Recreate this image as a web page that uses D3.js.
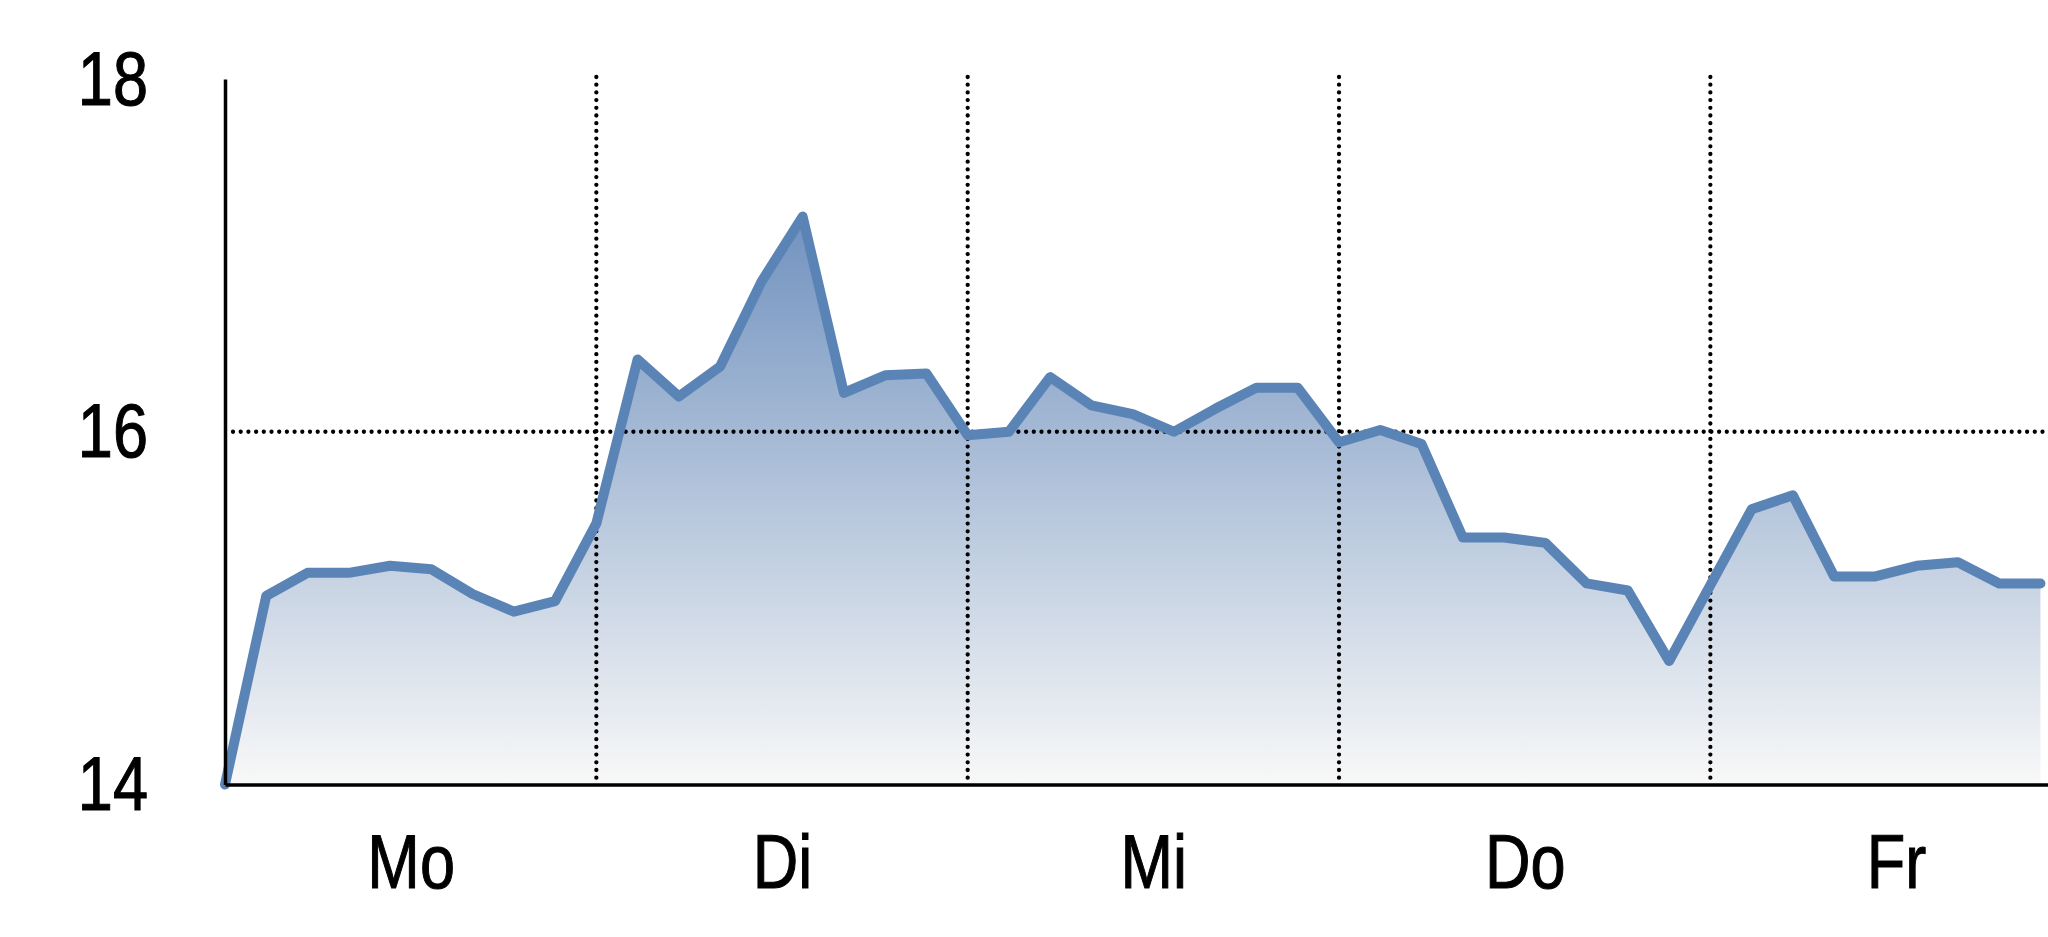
<!DOCTYPE html>
<html>
<head>
<meta charset="utf-8">
<script src="https://cdn.jsdelivr.net/npm/d3@7/dist/d3.min.js"></script>
<style>
  html, body { margin: 0; padding: 0; background: #ffffff; overflow: hidden; }
  svg { display: block; }
</style>
</head>
<body>
<svg id="chart" width="2048" height="937"></svg>
<script>
// ---- data ----
const days = ["Mo", "Di", "Mi", "Do", "Fr"];
const pointsPerDay = 9;
const values = [
  14.00, 15.07, 15.20, 15.20, 15.24, 15.22, 15.08, 14.98, 15.04,
  15.48, 16.41, 16.20, 16.37, 16.85, 17.22, 16.22, 16.32, 16.33,
  15.98, 16.00, 16.31, 16.15, 16.10, 16.00, 16.13, 16.25, 16.25,
  15.94, 16.01, 15.93, 15.40, 15.40, 15.37, 15.14, 15.10, 14.70,
  15.13, 15.56, 15.64, 15.18, 15.18, 15.24, 15.26, 15.14, 15.14
];
const yTicks = [14, 16, 18];
const yGrid = [16];

// ---- layout ----
const W = 2048, H = 937;
const mLeft = 225, mTop = 79, mBottom = 784.5;
const step = 41.26;
const nSlots = days.length * pointsPerDay;
const narrow = 0.83;
const fs = 76;
const fontFam = "'Liberation Sans', Arimo, Helvetica, Arial, sans-serif";

const svg = d3.select("#chart");
const x = d3.scaleLinear().domain([0, nSlots]).range([mLeft, mLeft + nSlots * step]);
const y = d3.scaleLinear().domain([14, 18]).range([mBottom, mTop]);

// gradient
const defs = svg.append("defs");
const grad = defs.append("linearGradient")
  .attr("id", "areaGrad")
  .attr("gradientUnits", "userSpaceOnUse")
  .attr("x1", 0).attr("x2", 0)
  .attr("y1", y(d3.max(values))).attr("y2", y(14));
grad.append("stop").attr("offset", "0%").attr("stop-color", "#7192bf");
grad.append("stop").attr("offset", "100%").attr("stop-color", "#f8f8f8");

const data = values.map((v, i) => ({ i, v }));

// area
svg.append("path")
  .datum(data)
  .attr("fill", "url(#areaGrad)")
  .attr("d", d3.area().x(d => x(d.i)).y0(y(14)).y1(d => y(d.v)));

// grid lines (dotted)
const gridG = svg.append("g")
  .attr("stroke", "#000")
  .attr("stroke-width", 4.3)
  .attr("stroke-linecap", "round")
  .attr("stroke-dasharray", "0,7.7");
gridG.selectAll("line.h").data(yGrid).join("line")
  .attr("x1", mLeft + 8).attr("x2", W)
  .attr("y1", d => y(d)).attr("y2", d => y(d));
const dayBounds = d3.range(1, days.length).map(k => k * pointsPerDay);
gridG.selectAll("line.v").data(dayBounds).join("line")
  .attr("x1", d => x(d)).attr("x2", d => x(d))
  .attr("y1", y(18) - 2).attr("y2", mBottom - 4);

// line
svg.append("path")
  .datum(data)
  .attr("fill", "none")
  .attr("stroke", "#5b84b6")
  .attr("stroke-width", 10)
  .attr("stroke-linejoin", "round")
  .attr("stroke-linecap", "round")
  .attr("d", d3.line().x(d => x(d.i)).y(d => y(d.v)));

function styleText(sel) {
  sel.attr("font-size", fs)
    .style("font-family", fontFam)
    .style("fill", "#000")
    .style("stroke", "#000")
    .style("stroke-width", "1.1px");
}

// y axis
const yPad = 77;
const yAxis = svg.append("g")
  .attr("transform", `translate(${mLeft},0)`)
  .call(d3.axisLeft(y).tickValues(yTicks).tickSize(0).tickPadding(yPad).tickFormat(d3.format("d")));
yAxis.attr("font-family", null);
yAxis.select(".domain").attr("stroke", "#000").attr("stroke-width", 3.5);
yAxis.selectAll("text").call(styleText).attr("dy", "0.33em")
  .attr("x", -yPad / narrow).attr("transform", `scale(${narrow},1)`);

// x axis
const xAxis = svg.append("g")
  .attr("transform", `translate(0,${mBottom})`)
  .call(d3.axisBottom(x)
    .tickValues(days.map((d, k) => k * pointsPerDay + pointsPerDay / 2))
    .tickSize(0).tickPadding(49.5)
    .tickFormat((d, k) => days[k]));
xAxis.attr("font-family", null);
xAxis.select(".domain").attr("stroke", "#000").attr("stroke-width", 3.5);
xAxis.selectAll("text").call(styleText)
  .attr("transform", `scale(${narrow},1)`);
</script>
</body>
</html>
